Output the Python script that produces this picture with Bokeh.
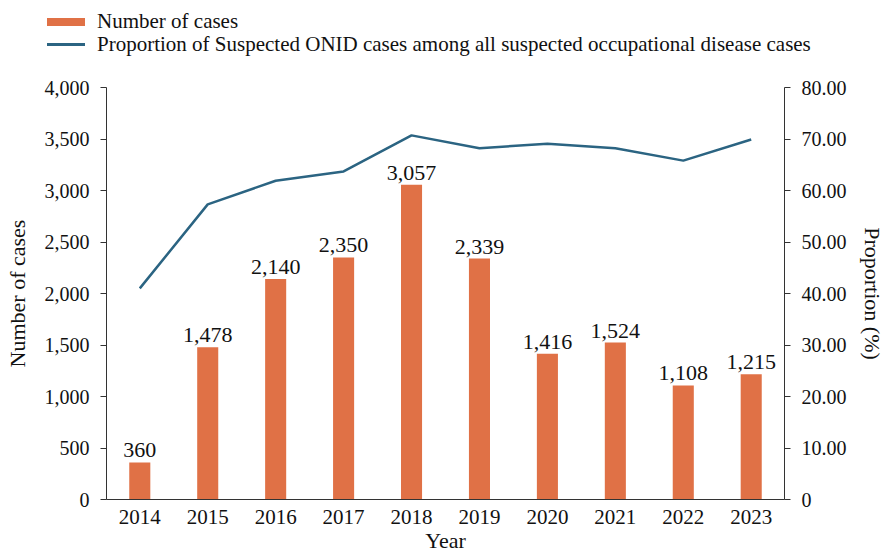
from bokeh.plotting import figure
from bokeh.layouts import column
from bokeh.models import (Range1d, LinearAxis, FixedTicker, NumeralTickFormatter,
                          CustomJSTickFormatter, ColumnDataSource, Div)
from bokeh.embed import file_html
from bokeh.resources import INLINE

years = ["2014", "2015", "2016", "2017", "2018", "2019", "2020", "2021", "2022", "2023"]
cases = [360, 1478, 2140, 2350, 3057, 2339, 1416, 1524, 1108, 1215]
proportion = [41.0, 57.3, 61.9, 63.7, 70.7, 68.2, 69.1, 68.2, 65.8, 69.9]
series_names = ["Number of cases",
                "Proportion of Suspected ONID cases among all suspected occupational disease cases"]

FONT = "Liberation Serif"
BAR_COLOR = "#E07146"
LINE_COLOR = "#2B6482"

W = 887
idx = list(range(len(years)))
src = ColumnDataSource(dict(x=idx, cases=cases, prop=proportion,
                            lab=[f"{v:,}" for v in cases]))

# ---- main chart ----
p = figure(width=W, height=481, output_backend="svg", toolbar_location=None,
           x_range=Range1d(-0.49, 9.49), y_range=Range1d(0, 4000),
           min_border_left=106, min_border_right=96, min_border_top=10, min_border_bottom=59)
p.outline_line_color = None
p.xgrid.visible = False
p.ygrid.visible = False
p.extra_y_ranges = {"prop": Range1d(0, 80)}

bars = p.vbar(x="x", top="cases", width=0.31, source=src, fill_color=BAR_COLOR, line_color=None)
line = p.line(x="x", y="prop", source=src, y_range_name="prop", line_color=LINE_COLOR, line_width=2.5)
p.text(x="x", y="cases", text="lab", source=src, text_align="center", text_baseline="bottom",
       y_offset=-5, text_font=FONT, text_font_size="22px", text_color="#111111")

def style_axis(ax):
    ax.axis_line_color = "#333333"
    ax.major_tick_line_color = "#333333"
    ax.minor_tick_line_color = None
    ax.major_tick_in = 0
    ax.major_tick_out = 6
    ax.major_label_text_font = FONT
    ax.major_label_text_font_size = "20px"
    ax.major_label_text_color = "#111111"
    ax.axis_label_text_font = FONT
    ax.axis_label_text_font_size = "22px"
    ax.axis_label_text_font_style = "normal"
    ax.axis_label_text_color = "#111111"

xa = p.xaxis[0]
style_axis(xa)
xa.ticker = FixedTicker(ticks=idx)
xa.major_label_overrides = {i: y for i, y in zip(idx, years)}
xa.major_label_text_font_size = "21px"
xa.major_tick_out = 0
xa.major_label_standoff = 10
xa.axis_label = "Year"
xa.axis_label_standoff = 1

ya = p.yaxis[0]
style_axis(ya)
ya.ticker = FixedTicker(ticks=list(range(0, 4001, 500)))
ya.formatter = NumeralTickFormatter(format="0,0")
ya.major_label_standoff = 11
ya.axis_label = "Number of cases"
ya.axis_label_standoff = 12

ra = LinearAxis(y_range_name="prop")
style_axis(ra)
ra.ticker = FixedTicker(ticks=list(range(0, 81, 10)))
ra.formatter = CustomJSTickFormatter(code="return tick == 0 ? '0' : tick.toFixed(2);")
ra.major_label_standoff = 11
ra.axis_label = "Proportion (%)"
ra.axis_label_standoff = 10
p.add_layout(ra, "right")

# ---- legend strip on top (HTML) ----
row_style = "height:23px;display:flex;align-items:center;white-space:nowrap;"
html = (
    f"<div style=\"padding:10px 0 0 47px;font-family:'{FONT}',serif;font-size:21px;color:#111111;line-height:23px;\">"
    f"<div style='{row_style}'><span style='display:inline-block;width:38px;height:8px;"
    f"background:{BAR_COLOR};margin-right:12px;'></span>{series_names[0]}</div>"
    f"<div style='{row_style}'><span style='display:inline-block;width:38px;height:3px;"
    f"background:{LINE_COLOR};margin-right:12px;'></span>{series_names[1]}</div>"
    "</div>"
)
lg = Div(text=html, width=W, height=77, margin=0)

layout = column(lg, p, spacing=0)
open("out.html", "w").write(file_html(layout, INLINE))
